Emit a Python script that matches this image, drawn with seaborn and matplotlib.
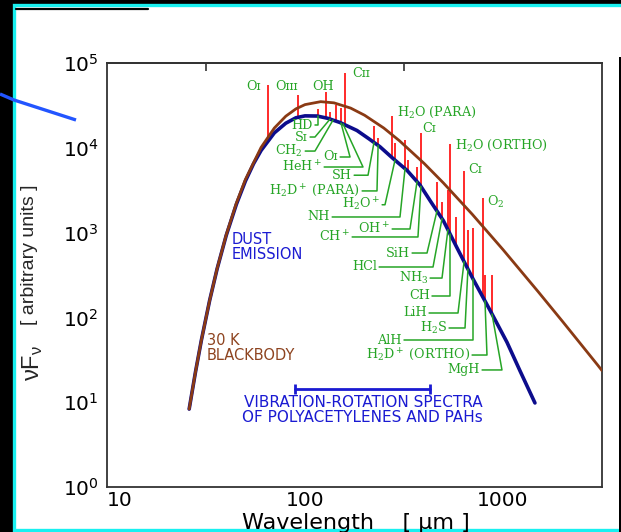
import numpy as np
import pandas as pd
import matplotlib
matplotlib.use("Agg")
import matplotlib.pyplot as plt
from matplotlib.patches import Rectangle
from matplotlib.lines import Line2D
import seaborn as sns

# 30 K blackbody, nu F_nu in arbitrary units
bb_wavelength = [26, 28, 30, 33, 36, 40, 45, 50, 60, 70, 80, 90, 100, 120, 140,
                 170, 200, 250, 300, 400, 500, 700, 1000, 1500, 2000, 3000, 3162]
bb_flux = [8.3, 22.9, 54.5, 159, 378, 939, 2220, 4230, 10100, 17100, 23600, 28800,
           32300, 35000, 33900, 29400, 24200, 17100, 12100, 6530, 3850, 1640, 630,
           203, 89.4, 27.6, 23.6]

# dust emission continuum
dust_wavelength = [26, 28, 30, 33, 36, 40, 45, 50, 55, 60, 70, 80, 90, 100, 115,
                   130, 150, 183, 210, 239, 278, 328, 381, 430, 500, 586, 705, 859,
                   1047, 1218, 1450]
dust_flux = [8.3, 22.9, 54.5, 159, 375, 925, 2150, 4050, 6500, 9300, 15000, 19500,
             22600, 23800, 23700, 22300, 19900, 16000, 12800, 10300, 7500, 5400,
             3640, 2350, 1380, 660, 285, 122, 51, 23.5, 9.8]

# spectral lines rising above the dust continuum
line_wavelength = [64.8, 92, 116, 128, 134, 143, 152, 159, 223, 234, 275, 285, 320,
                   331, 368, 385, 464, 492, 527, 540, 579, 636, 665, 705, 792, 811, 879]
line_peak = [55000, 42000, 28700, 45500, 26400, 32000, 29500, 76300, 18100, 13100,
             23700, 11400, 12400, 7180, 5940, 15000, 3950, 2300, 3180, 11100, 1530,
             5330, 1070, 1130, 2560, 316, 316]

# labels written beside the tops of the strongest lines
top_label_text = ["Oɪ", "Oɪɪɪ", "OH", "Cɪɪ", r"$\mathregular{H_2O}$ (PARA)", "Cɪ",
                  r"$\mathregular{H_2O}$ (ORTHO)", "Cɪ", r"$\mathregular{O_2}$"]
top_label_x = [55.2, 80.2, 123, 192, 291, 390, 573, 665, 830]
top_label_y = [53500, 53500, 53500, 74200, 26400, 16700, 10780, 5620, 2296]
top_label_ha = ["center", "center", "center", "center", "left", "left", "left",
                "left", "left"]

# labels tied to the continuum by leader lines: text, text end, height, elbow, target
leader_text = ["HD", "Sɪ", r"$\mathregular{CH_2}$", "Oɪ", r"$\mathregular{HeH^+}$",
               "SH", r"$\mathregular{H_2D^+}$ (PARA)", r"$\mathregular{H_2O^+}$", "NH",
               r"$\mathregular{OH^+}$", r"$\mathregular{CH^+}$", "SiH", "HCl",
               r"$\mathregular{NH_3}$", "CH", "LiH", r"$\mathregular{H_2S}$", "AlH",
               r"$\mathregular{H_2D^+}$ (ORTHO)", "MgH"]
leader_text_end = [109.8, 103.5, 97.8, 146.8, 121.9, 172.8, 189.6, 239.2, 133.8,
                   268.8, 168.8, 339, 231, 418, 428, 413, 521, 309, 681, 765]
leader_height = [18570, 13400, 9150, 7790, 5937, 4750, 3100, 2130, 1528, 1103, 888,
                 574.5, 393, 291, 179, 112.7, 75, 54.1, 36.0, 24.0]
leader_elbow = [116.3, 112.3, 112.3, 168.8, 196.3, 208.1, 231, 253.5, 301.8, 339,
                372, 413.3, 443.2, 492, 540, 592.6, 643, 705, 830, 988]
leader_target = [116.3, 133.8, 138.5, 152, 155.6, 223.1, 234, 284.8, 320, 368, 385,
                 464, 492, 527, 540, 636, 665, 705, 811, 880]

# wavelength range of the vibration-rotation bands
band_range = [89, 428]
band_level = 14.3

x_ticks = [10, 100, 1000]
x_tick_labels = ["10", "100", "1000"]
y_ticks = [1, 10, 100, 1000, 1e4, 1e5]
y_tick_labels = [r"$\mathregular{10^{%d}}$" % k for k in range(6)]

GREEN = "#26a526"
RED = "#ff2a2a"
NAVY = "#0c0c8c"
BROWN = "#8a3a14"
TEXT_BLUE = "#1a1ad2"
TEXT_BROWN = "#8e4420"

sns.set_style("white")
plt.rcParams["font.family"] = ["DejaVu Sans"]

W, H = 621, 532
fig = plt.figure(figsize=(W / 100, H / 100), dpi=100, facecolor="black")

# slide frame
fig.patches.append(Rectangle((14 / W, 2 / H), 620 / W, 525 / H, transform=fig.transFigure,
                             facecolor="white", edgecolor="#19f0f0", lw=2.4, zorder=-3))
fig.patches.append(Rectangle((619 / W, 0), 3 / W, 475 / H, transform=fig.transFigure,
                             facecolor="black", edgecolor="none", zorder=-2))
fig.lines.append(Line2D([16 / W, 148 / W], [1 - 9 / H, 1 - 9 / H], transform=fig.transFigure,
                        color="black", lw=1.6, zorder=-1))
fig.lines.append(Line2D([0, 14 / W, 76 / W], [1 - 94 / H, 1 - 100 / H, 1 - 120 / H],
                        transform=fig.transFigure, color="#2255ff", lw=2.4,
                        solid_capstyle="butt", zorder=-1))

ax = fig.add_axes([107 / W, 1 - 487 / H, 495 / W, 424 / H])
ax.set_facecolor("white")
ax.set_xscale("log")
ax.set_yscale("log")

bb = pd.DataFrame({"wavelength": bb_wavelength, "flux": bb_flux})
dust = pd.DataFrame({"wavelength": dust_wavelength, "flux": dust_flux})


def on_dust(lam):
    return 10 ** np.interp(np.log10(lam), np.log10(dust_wavelength), np.log10(dust_flux))


ax.vlines(line_wavelength, on_dust(np.array(line_wavelength)), line_peak,
          colors=RED, lw=1.4, zorder=2)
sns.lineplot(data=dust, x="wavelength", y="flux", ax=ax, color=NAVY, lw=2.6,
             estimator=None, sort=False, zorder=3)
sns.lineplot(data=bb, x="wavelength", y="flux", ax=ax, color=BROWN, lw=2.0,
             estimator=None, sort=False, zorder=4)

serif = ["DejaVu Serif"]
LABEL_SIZE = 9.2
for t, x, y, ha in zip(top_label_text, top_label_x, top_label_y, top_label_ha):
    ax.text(x, y, t, ha=ha, va="center", color=GREEN, fontsize=LABEL_SIZE, family=serif,
            zorder=6)

for t, xe, y, xb, xt in zip(leader_text, leader_text_end, leader_height, leader_elbow,
                            leader_target):
    ax.text(xe, y, t, ha="right", va="center", color=GREEN, fontsize=LABEL_SIZE,
            family=serif, zorder=6)
    ax.plot([xe * 1.025, xb, xt], [y, y, on_dust(xt)], color=GREEN, lw=1.1, zorder=5)

ax.plot(band_range, [band_level, band_level], color=TEXT_BLUE, lw=2.0, marker="|",
        ms=7, mew=2.0, zorder=5)
ax.text(196, 8.1, "VIBRATION-ROTATION SPECTRA\nOF POLYACETYLENES AND PAHs",
        ha="center", va="center", color=TEXT_BLUE, fontsize=11, linespacing=1.0)
ax.text(42.8, 676, "DUST\nEMISSION", ha="left", va="center", color=TEXT_BLUE,
        fontsize=10.5, linespacing=1.0)
ax.text(32, 43.6, "30 K\nBLACKBODY", ha="left", va="center", color=TEXT_BROWN,
        fontsize=10.5, linespacing=1.0)

ax.set_xlim(10, 10 ** 3.5)
ax.set_ylim(1, 1e5)
ax.set_xticks(x_ticks)
ax.set_xticklabels(x_tick_labels)
ax.set_yticks(y_ticks)
ax.set_yticklabels(y_tick_labels)
ax.xaxis.set_minor_locator(matplotlib.ticker.NullLocator())
ax.yaxis.set_minor_locator(matplotlib.ticker.NullLocator())
ax.tick_params(axis="both", direction="in", length=7, width=1.2, color="#333333",
               labelsize=14.5, labelcolor="black")
ax.tick_params(axis="x", pad=3)
ax.tick_params(axis="y", pad=6)
ax.get_xticklabels()[0].set_horizontalalignment("left")
for s in ax.spines.values():
    s.set_color("#333333")
    s.set_linewidth(1.3)

top = ax.secondary_xaxis("top")
top.set_xticks([10 ** 1.5, 10 ** 2.5])
top.xaxis.set_minor_locator(matplotlib.ticker.NullLocator())
top.tick_params(direction="in", length=6, width=1.2, color="#333333", labeltop=False)
top.spines["top"].set_color("#333333")
top.spines["top"].set_linewidth(1.3)

ax.set_xlabel("")
ax.set_ylabel("")
fig.text(356 / W, 1 - 523 / H, "Wavelength    [ μm ]", ha="center", va="center",
         fontsize=16, color="black")
fig.text(33 / W, 1 - 363 / H, r"$\mathregular{νF_ν}$", rotation=90, ha="center",
         va="center", fontsize=17, family=["Liberation Sans"])
fig.text(30 / W, 1 - 255 / H, "[ arbitrary units ]", rotation=90, ha="center",
         va="center", fontsize=14, family=["Liberation Sans"])

fig.savefig("out.png", dpi=100, facecolor=fig.get_facecolor())
